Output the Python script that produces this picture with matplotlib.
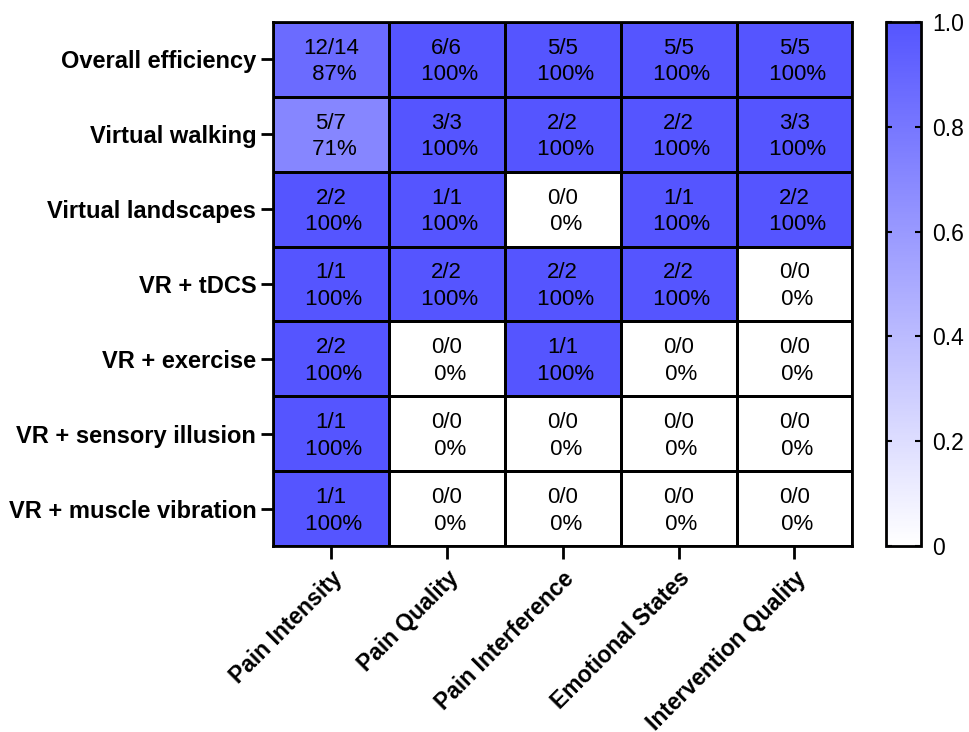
import numpy as np
import matplotlib.pyplot as plt
from matplotlib.colors import LinearSegmentedColormap

plt.rcParams['font.family'] = ['Liberation Sans', 'DejaVu Sans']

rows = ['Overall efficiency', 'Virtual walking', 'Virtual landscapes', 'VR + tDCS',
        'VR + exercise', 'VR + sensory illusion', 'VR + muscle vibration']
cols = ['Pain Intensity', 'Pain Quality', 'Pain Interference', 'Emotional States',
        'Intervention Quality']

# positive studies / total studies
num = [[12, 6, 5, 5, 5],
       [5, 3, 2, 2, 3],
       [2, 1, 0, 1, 2],
       [1, 2, 2, 2, 0],
       [2, 0, 1, 0, 0],
       [1, 0, 0, 0, 0],
       [1, 0, 0, 0, 0]]
den = [[14, 6, 5, 5, 5],
       [7, 3, 2, 2, 3],
       [2, 1, 0, 1, 2],
       [1, 2, 2, 2, 0],
       [2, 0, 1, 0, 0],
       [1, 0, 0, 0, 0],
       [1, 0, 0, 0, 0]]
# percentages as printed on the chart
pct = [[87, 100, 100, 100, 100],
       [71, 100, 100, 100, 100],
       [100, 100, 0, 100, 100],
       [100, 100, 100, 100, 0],
       [100, 0, 100, 0, 0],
       [100, 0, 0, 0, 0],
       [100, 0, 0, 0, 0]]

vals = np.array(pct) / 100.0
cmap = LinearSegmentedColormap.from_list('wb', ['#ffffff', '#5555ff'])

fig = plt.figure(figsize=(9.69, 7.32), dpi=100)
ax = fig.add_axes([0.2817, 0.2541, 0.598, 0.716])
cax = fig.add_axes([0.9143, 0.2541, 0.036, 0.716])

mesh = ax.pcolormesh(vals, cmap=cmap, vmin=0, vmax=1, edgecolors='black', linewidth=0.8)
ax.set_xlim(0, len(cols))
ax.set_ylim(len(rows), 0)

for i in range(len(rows)):
    for j in range(len(cols)):
        ax.text(j + 0.5, i + 0.53, f"{num[i][j]}/{den[i][j]}\n {pct[i][j]}%",
                ha='center', va='center', multialignment='center',
                fontsize=16, linespacing=1.35)

ax.set_xticks(np.arange(len(cols)) + 0.5)
ax.set_xticklabels(cols, rotation=45, ha='right', va='top', rotation_mode='anchor',
                   fontsize=16.5, fontweight='bold')
ax.set_yticks(np.arange(len(rows)) + 0.5)
ax.set_yticklabels(rows, fontsize=17, fontweight='bold')
ax.tick_params(length=9, width=2, pad=3)
ax.tick_params(axis='x', pad=6)
for s in ax.spines.values():
    s.set_linewidth(2)

cb = fig.colorbar(mesh, cax=cax)
cb.set_ticks([0, 0.2, 0.4, 0.6, 0.8, 1.0])
cb.set_ticklabels(['0', '0.2', '0.4', '0.6', '0.8', '1.0'])
cb.outline.set_linewidth(2)
cax.tick_params(direction='in', length=4, width=1.5, left=True, right=True,
                labelsize=16.5, pad=8)

fig.savefig('out.png', dpi=100)
